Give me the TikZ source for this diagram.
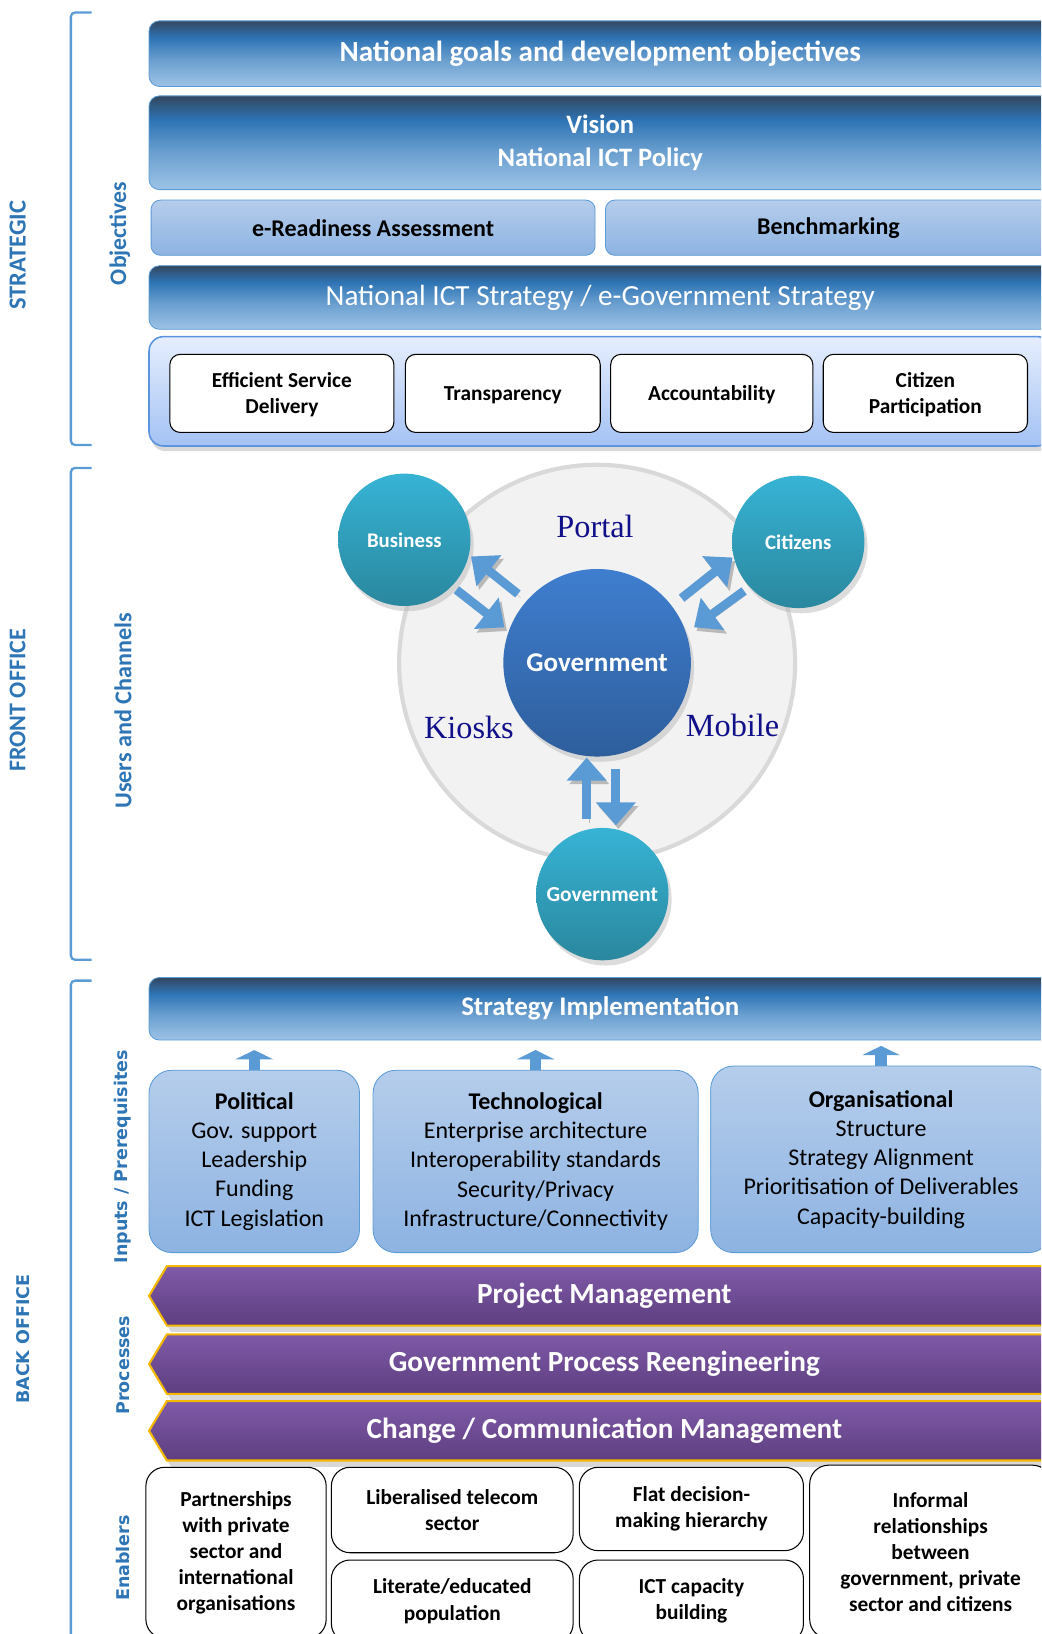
\documentclass[tikz,border=0pt]{standalone}
\usepackage{fontspec}
\setmainfont{Carlito}
\newfontfamily\wideface{DejaVu Sans}
\newfontfamily\channelface{Liberation Serif}
\usetikzlibrary{arrows.meta,shadows,shapes.symbols}
\definecolor{labelblue}{HTML}{2E75B6}
\definecolor{edgeblue}{HTML}{5B9BD5}
\definecolor{slate}{HTML}{33475F}
\definecolor{midblue}{HTML}{2E74B5}
\definecolor{paleblue}{HTML}{9DC3E6}
\colorlet{barmid}{paleblue!55!midblue}
\definecolor{softtop}{HTML}{B5CDEB}
\definecolor{softbot}{HTML}{8DB3E2}
\definecolor{aimtop}{HTML}{E6EEFD}
\definecolor{aimbot}{HTML}{A4C2F4}
\definecolor{aimedge}{HTML}{5A93E0}
\definecolor{tealtop}{HTML}{37B3D5}
\definecolor{tealbot}{HTML}{2A879E}
\definecolor{govtop}{HTML}{3F7ECF}
\definecolor{govbot}{HTML}{2E5E9C}
\definecolor{plumtop}{HTML}{7F5AA8}
\definecolor{plumbot}{HTML}{5E3E80}
\definecolor{gold}{HTML}{F5B800}
\definecolor{navytext}{HTML}{10108A}
\definecolor{arrowblue}{HTML}{5B9BD5}
\pgfdeclareverticalshading{barshade}{100bp}{color(0bp)=(paleblue); color(25bp)=(paleblue); color(45bp)=(barmid); color(62bp)=(midblue); color(75bp)=(slate); color(100bp)=(slate)}

\begin{document}
\begin{tikzpicture}[x=1pt,y=-1pt,
  darkbar/.style={draw=edgeblue, line width=0.8pt, rounded corners=10pt, shading=barshade,
    minimum width=866pt, text=white, font=\bfseries\fontsize{28}{32}\selectfont},
  softbar/.style={draw=edgeblue, line width=0.8pt, rounded corners=9pt, top color=softtop,
    bottom color=softbot, minimum height=53pt, font=\bfseries\fontsize{23}{26}\selectfont},
  aimbox/.style={draw=black, line width=1pt, fill=white, rounded corners=10pt,
    minimum height=75pt, align=center, font=\bfseries\fontsize{20.5}{25}\selectfont},
  user/.style={circle, top color=tealtop, bottom color=tealbot, minimum size=127pt,
    text=white, font=\bfseries\fontsize{20}{22}\selectfont,
    drop shadow={shadow xshift=3pt, shadow yshift=-5pt, fill=gray!55}},
  channel/.style={text=navytext, font=\channelface\fontsize{31}{34}\selectfont},
  blockarrow/.style={draw=arrowblue, line width=8.5pt, -{Triangle[length=22pt,width=37pt]},
    preaction={draw=gray!55, transform canvas={shift={(2.5pt,-3.5pt)}}}},
  liftarrow/.style={draw=arrowblue, line width=11pt, -{Triangle[length=9pt,width=36pt]}},
  inputbox/.style={draw=edgeblue, line width=0.8pt, rounded corners=22pt, top color=softtop,
    bottom color=softbot, align=center, font=\fontsize{23}{28}\selectfont},
  process/.style={signal, signal to=west and east, signal pointer angle=118, draw=gold,
    line width=2pt, top color=plumtop, bottom color=plumbot, minimum width=874pt,
    text=white, font=\bfseries\fontsize{28}{30}\selectfont,
    drop shadow={shadow xshift=4pt, shadow yshift=-6pt, fill=gray!60}},
  enabler/.style={draw=black, line width=1pt, fill=white, rounded corners=18pt,
    align=center, font=\bfseries\fontsize{20.5}{25}\selectfont},
  sidelabel/.style={rotate=90, text=labelblue, font=\bfseries\fontsize{23.5}{26}\selectfont},
  widelabel/.style={rotate=90, text=labelblue, font=\wideface\bfseries\fontsize{16.8}{19}\selectfont},
  bracket/.style={draw=edgeblue, line width=2.2pt, rounded corners=4pt}]
\useasboundingbox (0,0) rectangle (999,1568);
\clip (0,0) rectangle (999,1568);

\draw[bracket] (88,12) -- (68,12) -- (68,427) -- (88,427);
\draw[bracket] (88,449) -- (68,449) -- (68,921) -- (88,921);
\draw[bracket] (88,941) -- (68,941) -- (68,1590);
\node[sidelabel] (strategic) at (17,245) {STRATEGIC};
\node[sidelabel, font=\bfseries\fontsize{23}{26}\selectfont] (front) at (17,672) {FRONT OFFICE};
\node[widelabel] (back) at (22,1285) {BACK OFFICE};
\node[sidelabel, font=\bfseries\fontsize{22.8}{26}\selectfont] (objectives) at (115,224) {Objectives};
\node[sidelabel, font=\bfseries\fontsize{23.2}{26}\selectfont] (channels) at (118,682) {Users and Channels};
\node[widelabel] (inputs) at (118,1110) {Inputs / Prerequisites};
\node[widelabel] (processes) at (118,1310) {Processes};
\node[widelabel] (enablers) at (118,1495) {Enablers};

\node[darkbar, minimum height=63pt] (goals) at (576,51.5) {National goals and development objectives};
\node[darkbar, minimum height=90pt, align=center, font=\bfseries\fontsize{25.5}{31}\selectfont]
  (vision) at (576,137) {Vision\\National ICT Policy};
\node[softbar, minimum width=426pt] (ready) at (358,218.5) {e-Readiness Assessment};
\node[softbar, minimum width=428pt] (bench) at (795,218.5) {Benchmarking};
\node[darkbar, minimum height=61pt, font=\fontsize{28}{32}\selectfont]
  (ictstrat) at (576,285.5) {National ICT Strategy / e-Government Strategy};
\node[draw=aimedge, line width=1.5pt, rounded corners=14pt, top color=aimtop, bottom color=aimbot,
  minimum width=866pt, minimum height=105pt,
  drop shadow={shadow xshift=2pt, shadow yshift=-5pt, fill=gray!60}] (aims) at (576,375.5) {};
\foreach \nm/\cx/\w/\txt in {eff/270.5/215/{Efficient Service\\Delivery},
    trans/482.5/187/Transparency, acc/683/194/Accountability, cit/888/196/{Citizen\\Participation}}
  \node[aimbox, minimum width=\w pt, text depth=0pt] (\nm) at (\cx,377.5) {\txt};

\node[circle, fill=gray!10, draw=gray!30, line width=4pt, minimum size=380pt] (ring) at (573,636) {};
\node[channel] (portal) at (571,505) {Portal};
\node[channel] (kiosks) at (450,698) {Kiosks};
\node[channel] (mobile) at (703,696) {Mobile};
\node[circle, top color=govtop, bottom color=govbot, minimum size=180pt, text=white,
  font=\bfseries\fontsize{26}{28}\selectfont,
  drop shadow={shadow xshift=3pt, shadow yshift=-5pt, fill=gray!55}] (gov) at (573,636) {Government};
\node[user] (business) at (388,518) {Business};
\node[user] (citizens) at (766,520) {Citizens};
\node[user, font=\bfseries\fontsize{20.5}{22}\selectfont] (govuser) at (578,858) {Government};
\coordinate (bt1) at (497,570); \coordinate (bh1) at (452,534);
\coordinate (bt2) at (438,566); \coordinate (bh2) at (484,602);
\coordinate (ct1) at (654,574); \coordinate (ch1) at (703,535);
\coordinate (ct2) at (714,567); \coordinate (ch2) at (666,602);
\coordinate (gt1) at (563,786); \coordinate (gh1) at (563,727);
\coordinate (gt2) at (591,738); \coordinate (gh2) at (591,792);
\foreach \a/\b in {bt1/bh1, bt2/bh2, ct1/ch1, ct2/ch2, gt1/gh1, gt2/gh2}
  \draw[blockarrow] (\a) -- (\b);

\node[darkbar, minimum height=60pt, font=\bfseries\fontsize{25.8}{28}\selectfont]
  (impl) at (576,968) {Strategy Implementation};
\node[inputbox, minimum width=202pt, minimum height=175pt] (political) at (244,1114.5)
  {\textbf{Political}\\Gov. support\\Leadership\\Funding\\ICT Legislation};
\node[inputbox, minimum width=312pt, minimum height=175pt] (techno) at (514,1114.5)
  {\textbf{Technological}\\Enterprise architecture\\Interoperability standards\\Security/Privacy\\Infrastructure/Connectivity};
\node[inputbox, minimum width=327pt, minimum height=179pt] (organ) at (845.5,1112.5)
  {\textbf{Organisational}\\Structure\\Strategy Alignment\\Prioritisation of Deliverables\\Capacity-building};
\foreach \nm in {political, techno, organ}
  \draw[liftarrow] (\nm.north) -- ++(0,-19);

\foreach \nm/\cy/\txt in {pm/1243.5/Project Management, gpr/1309/Government Process Reengineering,
    ccm/1373/{Change / Communication Management}}
  \node[process, minimum height=57pt] (\nm) at (580,\cy) {\txt};

\node[enabler, minimum width=173pt, minimum height=164pt] (partner) at (226.5,1490)
  {Partnerships\\with private\\sector and\\international\\organisations};
\node[enabler, minimum width=232pt, minimum height=82pt] (telecom) at (434,1449)
  {Liberalised telecom\\sector};
\node[enabler, minimum width=232pt, minimum height=79pt] (literate) at (434,1536.5)
  {Literate/educated\\population};
\node[enabler, minimum width=215pt, minimum height=80pt] (flat) at (663.5,1448)
  {Flat decision-\\making hierarchy};
\node[enabler, minimum width=215pt, minimum height=79pt] (capacity) at (663.5,1536.5)
  {ICT capacity\\building};
\node[enabler, minimum width=232pt, minimum height=166pt] (informal) at (893,1489)
  {Informal\\relationships\\between\\government, private\\sector and citizens};
\end{tikzpicture}
\end{document}
